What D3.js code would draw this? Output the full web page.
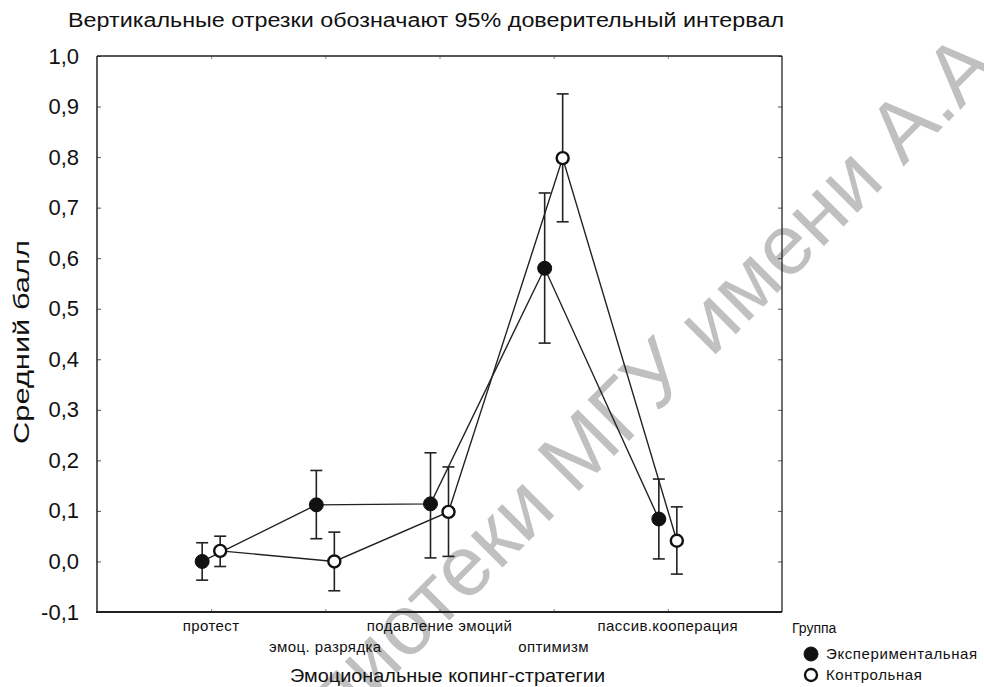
<!DOCTYPE html>
<html>
<head>
<meta charset="utf-8">
<script src="https://cdn.jsdelivr.net/npm/d3@7"></script>
<style>
  body { margin: 0; background: #fff; }
  text { font-family: "Liberation Sans", Arial, sans-serif; fill: #111; }
</style>
</head>
<body>
<div id="chart"></div>
<script>
  var w = 984, h = 687;

  // categories (position on the axis) and staggered label rows
  var categories = ["протест", "эмоц. разрядка", "подавление эмоций", "оптимизм", "пассив.кооперация"];
  var labelRow = [0, 1, 0, 1, 0];
  var groups = ["Экспериментальная", "Контрольная"];

  // means and 95% CI bounds
  var expMean  = [0.000, 0.112, 0.114, 0.580, 0.084];
  var expLow   = [-0.037, 0.045, 0.007, 0.432, 0.005];
  var expHigh  = [0.037, 0.180, 0.215, 0.729, 0.163];
  var ctrlMean = [0.021, 0.000, 0.098, 0.798, 0.041];
  var ctrlLow  = [-0.010, -0.058, 0.010, 0.672, -0.025];
  var ctrlHigh = [0.050, 0.058, 0.187, 0.925, 0.108];

  var yTicks = [-0.1, 0, 0.1, 0.2, 0.3, 0.4, 0.5, 0.6, 0.7, 0.8, 0.9, 1.0];

  var plotL = 97, plotR = 782, plotT = 56, plotB = 612;

  var svg = d3.select("#chart").append("svg")
    .attr("width", w).attr("height", h);

  // watermark behind everything
  var wm = svg.append("g").attr("transform", "translate(574,496) rotate(-45)")
    .style("font-size", "85px");
  wm.append("text").attr("text-anchor", "end").attr("x", -22).style("fill", "#c0c0c0")
    .text("библиотеки");
  wm.append("text").attr("text-anchor", "start").style("fill", "#c0c0c0")
    .text("МГУ имени А.А. Кулешова");

  var x = d3.scaleLinear().domain([-1, 5]).range([plotL, plotR]);
  var y = d3.scaleLinear().domain([-0.1, 1.0]).range([plotB, plotT]);

  // title
  svg.append("text").attr("x", 68).attr("y", 27)
    .attr("textLength", 716).attr("lengthAdjust", "spacingAndGlyphs")
    .style("font-size", "20px")
    .text("Вертикальные отрезки обозначают 95% доверительный интервал");

  // y axis + right inner ticks
  var yAxis = d3.axisLeft(y).tickValues(yTicks).tickSize(-4).tickPadding(18)
    .tickFormat(function(d) { return d3.format(".1f")(d).replace(".", ",").replace("−", "-"); });
  var ga = svg.append("g").attr("transform", "translate(" + plotL + ",0)").call(yAxis);
  ga.select(".domain").remove();
  ga.selectAll("text").style("font-size", "22px");
  ga.selectAll("line").attr("stroke", "#555");

  var gr = svg.append("g").attr("transform", "translate(" + plotR + ",0)")
    .call(d3.axisRight(y).tickValues(yTicks).tickSize(-4).tickFormat(""));
  gr.select(".domain").remove();
  gr.selectAll("line").attr("stroke", "#555");

  var gb = svg.append("g").attr("transform", "translate(0," + plotB + ")")
    .call(d3.axisBottom(x).tickValues(d3.range(categories.length)).tickSize(-3).tickFormat(""));
  gb.select(".domain").remove();
  gb.selectAll("line").attr("stroke", "#888");

  var gt = svg.append("g").attr("transform", "translate(0," + plotT + ")")
    .call(d3.axisTop(x).tickValues(d3.range(categories.length)).tickSize(-3).tickFormat(""));
  gt.select(".domain").remove();
  gt.selectAll("line").attr("stroke", "#888");

  // frame
  svg.append("line").attr("x1", plotL).attr("x2", plotR).attr("y1", plotT).attr("y2", plotT)
    .attr("stroke", "#222").attr("stroke-width", 1.5);
  svg.append("line").attr("x1", plotL).attr("x2", plotL).attr("y1", plotT).attr("y2", plotB)
    .attr("stroke", "#222").attr("stroke-width", 1.5);
  svg.append("line").attr("x1", plotR).attr("x2", plotR).attr("y1", plotT).attr("y2", plotB)
    .attr("stroke", "#222").attr("stroke-width", 1.3);
  svg.append("line").attr("x1", plotL - 1).attr("x2", plotR).attr("y1", plotB).attr("y2", plotB)
    .attr("stroke", "#222").attr("stroke-width", 2.2);

  // category labels
  svg.append("g").selectAll("text").data(categories).enter().append("text")
    .attr("x", function(d, i) { return x(i); })
    .attr("y", function(d, i) { return plotB + 19 + labelRow[i] * 21; })
    .attr("text-anchor", "middle")
    .style("font-size", "15px").style("letter-spacing", "0.4px")
    .text(function(d) { return d; });

  // axis titles
  svg.append("text").attr("x", 290).attr("y", 682)
    .attr("textLength", 315).attr("lengthAdjust", "spacingAndGlyphs")
    .style("font-size", "19px").text("Эмоциональные копинг-стратегии");
  svg.append("text").attr("transform", "translate(29,444) rotate(-90)")
    .attr("textLength", 204).attr("lengthAdjust", "spacingAndGlyphs")
    .style("font-size", "22px").text("Средний балл");

  var series = [
    { name: groups[0], mean: expMean, low: expLow, high: expHigh, dx: -9, filled: true },
    { name: groups[1], mean: ctrlMean, low: ctrlLow, high: ctrlHigh, dx: 9, filled: false }
  ];

  var line = d3.line();
  series.forEach(function(s) {
    var pts = s.mean.map(function(v, i) { return [x(i) + s.dx, y(v)]; });
    svg.append("path").attr("d", line(pts)).attr("fill", "none")
      .attr("stroke", "#222").attr("stroke-width", 1.4);
  });

  series.forEach(function(s) {
    var g = svg.append("g");
    s.mean.forEach(function(v, i) {
      var cx = x(i) + s.dx;
      g.append("line").attr("x1", cx).attr("x2", cx).attr("y1", y(s.low[i])).attr("y2", y(s.high[i]))
        .attr("stroke", "#222").attr("stroke-width", 1.6);
      [s.low[i], s.high[i]].forEach(function(b) {
        g.append("line").attr("x1", cx - 6).attr("x2", cx + 6).attr("y1", y(b)).attr("y2", y(b))
          .attr("stroke", "#222").attr("stroke-width", 1.6);
      });
    });
  });

  series.forEach(function(s) {
    svg.append("g").selectAll("circle").data(s.mean).enter().append("circle")
      .attr("cx", function(d, i) { return x(i) + s.dx; })
      .attr("cy", function(d) { return y(d); })
      .attr("r", s.filled ? 7 : 6)
      .attr("fill", s.filled ? "#111" : "#fff")
      .attr("stroke", "#111").attr("stroke-width", s.filled ? 1 : 2.4);
  });

  // legend
  var lg = svg.append("g");
  lg.append("text").attr("x", 792).attr("y", 633).style("font-size", "14px").text("Группа");
  series.forEach(function(s, i) {
    var ly = 654 + i * 21;
    lg.append("circle").attr("cx", 811).attr("cy", ly).attr("r", s.filled ? 7 : 6)
      .attr("fill", s.filled ? "#111" : "#fff")
      .attr("stroke", "#111").attr("stroke-width", s.filled ? 1 : 2.4);
    lg.append("text").attr("x", 826).attr("y", ly + 5).style("font-size", "15px")
      .style("letter-spacing", "0.6px").text(s.name);
  });
</script>
</body>
</html>
